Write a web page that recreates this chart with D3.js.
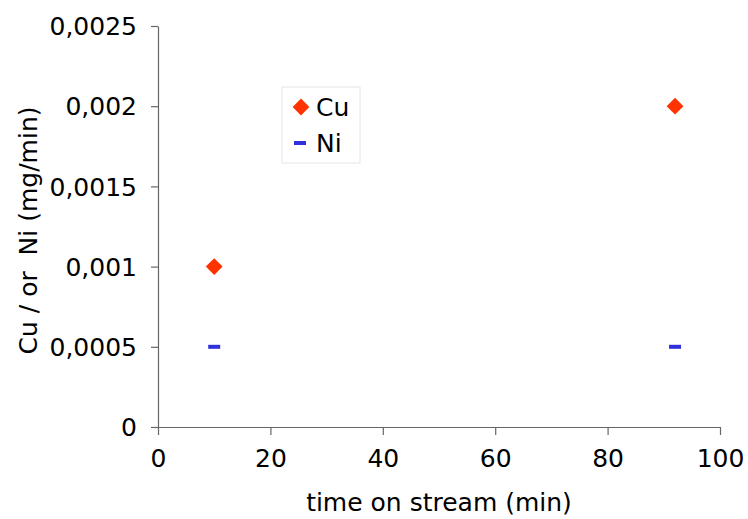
<!DOCTYPE html>
<html><head><meta charset="utf-8">
<script src="https://cdn.jsdelivr.net/npm/d3@7"></script>
<style>body{margin:0;background:#fff}svg{display:block}text{font-family:"DejaVu Sans",Verdana,sans-serif;fill:#000}</style>
</head><body>
<svg id="c" width="748" height="519"></svg>
<script>
const xTicks = [0, 20, 40, 60, 80, 100];
const yTicks = [0, 0.0005, 0.001, 0.0015, 0.002, 0.0025];
const yTickLabels = ["0", "0,0005", "0,001", "0,0015", "0,002", "0,0025"];
const cuTime = [10, 92];
const cuValues = [0.001, 0.002];
const niTime = [10, 92];
const niValues = [0.0005, 0.0005];
const seriesNames = ["Cu", "Ni"];

const svg = d3.select("#c");
const L = 158, R = 720, T = 26, B = 427;
const x = d3.scaleLinear().domain([0, 100]).range([L, R]);
const y = d3.scaleLinear().domain([0, 0.0025]).range([B, T]);
const axisColor = "#666";
const FS = 25;

const gx = svg.append("g").attr("transform", `translate(0,${B})`)
  .call(d3.axisBottom(x).tickValues(xTicks).tickSize(8).tickSizeOuter(0).tickPadding(14));
const gy = svg.append("g").attr("transform", `translate(${L},0)`)
  .call(d3.axisLeft(y).tickValues(yTicks).tickFormat((d, i) => yTickLabels[i]).tickSize(7).tickSizeOuter(0).tickPadding(14));
[gx, gy].forEach(g => {
  g.selectAll("path.domain").attr("stroke", axisColor).attr("stroke-width", 1.2);
  g.selectAll(".tick line").attr("stroke", axisColor).attr("stroke-width", 1.2);
  g.selectAll(".tick text").attr("font-size", FS).attr("font-family", '"DejaVu Sans",Verdana,sans-serif').attr("fill", "#000");
});
gy.selectAll(".tick text").attr("dy", "0.35em");

// axis titles
svg.append("text").attr("x", (L + R) / 2).attr("y", 511).attr("text-anchor", "middle")
  .attr("font-size", FS).text("time on stream (min)");
svg.append("text").attr("transform", `translate(37,${(T + B) / 2 + 4}) rotate(-90)`).attr("text-anchor", "middle")
  .attr("font-size", FS).attr("xml:space", "preserve").style("white-space", "pre").text("Cu / or  Ni (mg/min)");

// Cu diamonds
const diamond = d3.symbol().type(d3.symbolDiamond2).size(180);
svg.append("g").selectAll("path").data(cuTime.map((t, i) => [t, cuValues[i]])).join("path")
  .attr("d", diamond).attr("transform", d => `translate(${x(d[0])},${y(d[1])})`).attr("fill", "#ff3300");

// Ni dashes
svg.append("g").selectAll("rect").data(niTime.map((t, i) => [t, niValues[i]])).join("rect")
  .attr("x", d => x(d[0]) - 6).attr("y", d => y(d[1]) - 2).attr("width", 12).attr("height", 4).attr("fill", "#3030dd");

// legend
const lg = svg.append("g");
lg.append("rect").attr("x", 282).attr("y", 87).attr("width", 78).attr("height", 76)
  .attr("fill", "#fff").attr("stroke", "#e6e6e6").attr("stroke-width", 1);
lg.append("path").attr("d", diamond).attr("transform", "translate(301,107)").attr("fill", "#ff3300");
lg.append("rect").attr("x", 294).attr("y", 141).attr("width", 12).attr("height", 4).attr("fill", "#3030dd");
lg.append("text").attr("x", 316).attr("y", 107).attr("dy", "0.35em").attr("font-size", FS).text(seriesNames[0]);
lg.append("text").attr("x", 316).attr("y", 143).attr("dy", "0.35em").attr("font-size", FS).text(seriesNames[1]);
</script>
</body></html>
